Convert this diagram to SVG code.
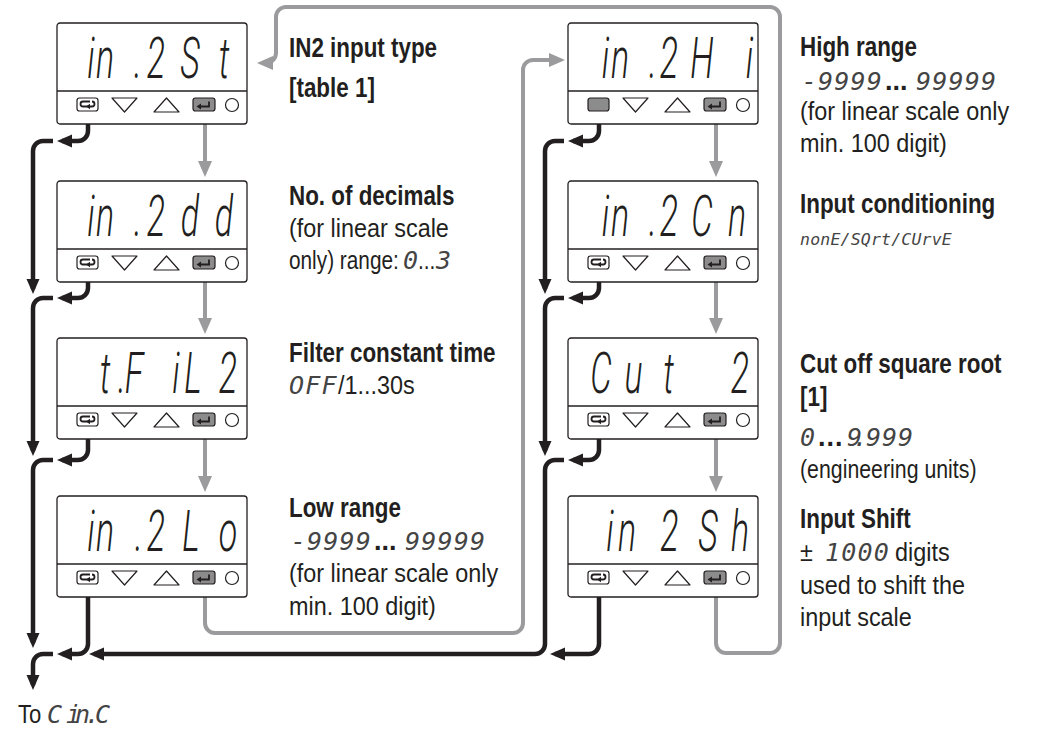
<svg xmlns="http://www.w3.org/2000/svg" xmlns:xlink="http://www.w3.org/1999/xlink" width="1040" height="729" viewBox="0 0 1040 729">
<style>
.box{fill:#fff;stroke:#231f20;stroke-width:1.3}
.ln{fill:none;stroke:#231f20;stroke-width:1.3}
.k{fill:#fff;stroke:#231f20;stroke-width:1.2;stroke-linejoin:round}
.kg{fill:#8c8c8c;stroke:#231f20;stroke-width:1.2}
.ic{fill:none;stroke:#231f20;stroke-width:1.8}
.icf{fill:#231f20}
.blk{fill:none;stroke:#231f20;stroke-width:4.5;marker-end:url(#ab)}
.gry{fill:none;stroke:#9b9b9d;stroke-width:4;marker-end:url(#ag)}
.disp{font-family:Roboto,"DejaVu Sans",sans-serif;font-weight:300;font-style:italic;font-size:34px;fill:#231f20;text-anchor:middle}
.b{font-family:"Liberation Sans",Arial,sans-serif;font-weight:bold;font-size:27px;fill:#231f20}
.r{font-family:"Liberation Sans",Arial,sans-serif;font-size:26px;fill:#231f20}
.s{font-family:"DejaVu Sans Mono",monospace;font-style:oblique;font-size:25px;fill:#444;letter-spacing:1.2px}
.ss{font-family:"DejaVu Sans Mono",monospace;font-style:oblique;font-size:16.5px;fill:#444;letter-spacing:0.2px}
</style>
<defs>
<marker id="ab" markerWidth="16" markerHeight="14" refX="10" refY="6.5" orient="auto" markerUnits="userSpaceOnUse"><path d="M0,0 L15,6.5 L0,13 Z" fill="#231f20"/></marker>
<marker id="ag" markerWidth="17" markerHeight="15" refX="11" refY="7" orient="auto" markerUnits="userSpaceOnUse"><path d="M0,0 L16,7 L0,14 Z" fill="#9b9b9d"/></marker>
<g id="frame"><rect x="0" y="0" width="190" height="101" rx="3" class="box"/><line x1="0" y1="68" x2="190" y2="68" class="ln"/></g>
<g id="keys">
<polygon points="55,75 80,75 67.5,89" class="k"/>
<polygon points="97,89 122,89 109.5,75" class="k"/>
<rect x="136" y="75" width="22" height="13" rx="2.5" class="kg"/>
<path d="M152,78.5 V83.5 H143" class="ic"/>
<polygon points="139.5,83.5 144,80.5 144,86.5" class="icf"/>
<circle cx="175" cy="82" r="6.5" class="k"/>
</g>
<g id="loopkey">
<rect x="20" y="75" width="21" height="13" rx="2.5" class="k"/>
<path d="M33,78.5 H26 A2.5,2.5 0 0 0 26,83.5 H35 A2.5,2.5 0 0 0 35,78.5" class="ic"/>
<polygon points="29,83.5 33,80.8 33,86.2" class="icf"/>
</g>
<g id="graykey"><rect x="20" y="75" width="21" height="13" rx="2.5" class="kg"/></g>
</defs>

<g id="connectors">
<path class="gry" d="M205,111 V172"/>
<path class="gry" d="M205,269 V329"/>
<path class="gry" d="M205,426 V487"/>
<path class="gry" d="M716,111 V172"/>
<path class="gry" d="M716,269 V329"/>
<path class="gry" d="M716,426 V487"/>
<path class="gry" d="M205,584 V623 A10,10 0 0 0 215,633 H513 A10,10 0 0 0 523,623 V70 A10,10 0 0 1 533,60 H560"/>
<path class="gry" d="M716,584 V643 A10,10 0 0 0 726,653 H770 A10,10 0 0 0 780,643 V17 A10,10 0 0 0 770,7 H286 A10,10 0 0 0 276,17 V53 A10,10 0 0 1 266,63 H262"/>
<path class="blk" d="M88,111 V131 A10,10 0 0 1 78,141 H62"/>
<path class="blk" d="M88,269 V288 A10,10 0 0 1 78,298 H62"/>
<path class="blk" d="M88,426 V450 A10,10 0 0 1 78,460 H62"/>
<path class="blk" d="M88,584 V644 A10,10 0 0 1 78,654 H62"/>
<path class="blk" d="M53,141 H43 A10,10 0 0 0 33,151 V289"/>
<path class="blk" d="M53,298 H43 A10,10 0 0 0 33,308 V451"/>
<path class="blk" d="M53,460 H43 A10,10 0 0 0 33,470 V643"/>
<path class="blk" d="M53,654 H43 A10,10 0 0 0 33,664 V685"/>
<path class="blk" d="M599,111 V131 A10,10 0 0 1 589,141 H573"/>
<path class="blk" d="M599,269 V288 A10,10 0 0 1 589,298 H573"/>
<path class="blk" d="M599,426 V450 A10,10 0 0 1 589,460 H573"/>
<path class="blk" d="M599,584 V644 A10,10 0 0 1 589,654 H555"/>
<path class="blk" d="M564,141 H555 A10,10 0 0 0 545,151 V289"/>
<path class="blk" d="M564,298 H555 A10,10 0 0 0 545,308 V451"/>
<path class="blk" d="M564,460 H555 A10,10 0 0 0 545,470 V644 A10,10 0 0 1 535,654 H94"/>
</g>

<g id="node-in2st">
<use xlink:href="#frame" x="57" y="23"/><use xlink:href="#keys" x="57" y="23"/><use xlink:href="#loopkey" x="57" y="23"/>
<g transform="translate(0,78) scale(1,1.7)"><text class="disp" x="91 105 138 156 190 224" y="0">in.2St</text></g>
<text class="b" transform="translate(289,57) scale(.83,1)">IN2 input type</text>
<text class="b" transform="translate(289,97) scale(.83,1)">[table 1]</text>
</g>

<g id="node-in2dd">
<use xlink:href="#frame" x="57" y="181"/><use xlink:href="#keys" x="57" y="181"/><use xlink:href="#loopkey" x="57" y="181"/>
<g transform="translate(0,236) scale(1,1.7)"><text class="disp" x="91 105 138 156 190 224" y="0">in.2dd</text></g>
<text class="b" transform="translate(289,205) scale(.83,1)">No. of decimals</text>
<text class="r" transform="translate(289,237) scale(.9,1)">(for linear scale</text>
<text class="r" transform="translate(289,269) scale(.8,1)">only) range:</text>
<text class="s" x="403" y="269">0</text>
<text class="r" transform="translate(418,269) scale(.8,1)">...</text>
<text class="s" x="436" y="269">3</text>
</g>

<g id="node-tfil2">
<use xlink:href="#frame" x="57" y="338"/><use xlink:href="#keys" x="57" y="338"/><use xlink:href="#loopkey" x="57" y="338"/>
<g transform="translate(0,393) scale(1,1.7)"><text class="disp" x="105 122 134 155 176 193 228" y="0">t.F iL2</text></g>
<text class="b" transform="translate(289,362) scale(.83,1)">Filter constant time</text>
<text class="s" x="289" y="394">OFF</text>
<text class="r" transform="translate(338,394) scale(.9,1)">/1...30s</text>
</g>

<g id="node-in2lo">
<use xlink:href="#frame" x="57" y="496"/><use xlink:href="#keys" x="57" y="496"/><use xlink:href="#loopkey" x="57" y="496"/>
<g transform="translate(0,551) scale(1,1.7)"><text class="disp" x="91 105 139 156 191 210 228" y="0">in.2L o</text></g>
<text class="b" transform="translate(289,517) scale(.83,1)">Low range</text>
<text class="s" x="290.7" y="550">-9999</text>
<text class="b" x="374" y="550">...</text>
<text class="s" x="405" y="550">99999</text>
<text class="r" transform="translate(289,582) scale(.9,1)">(for linear scale only</text>
<text class="r" transform="translate(289,615) scale(.9,1)">min. 100 digit)</text>
</g>

<g id="node-in2hi">
<use xlink:href="#frame" x="568" y="23"/><use xlink:href="#keys" x="568" y="23"/><use xlink:href="#graykey" x="568" y="23"/>
<g transform="translate(0,78) scale(1,1.7)"><text class="disp" x="605.5 620 653 669 702 725 749.5" y="0">in.2H i</text></g>
<text class="b" transform="translate(800,56) scale(.83,1)">High range</text>
<text class="s" x="801.7" y="90">-9999</text>
<text class="b" x="885" y="90">...</text>
<text class="s" x="916" y="90">99999</text>
<text class="r" transform="translate(800,120) scale(.9,1)">(for linear scale only</text>
<text class="r" transform="translate(800,152) scale(.9,1)">min. 100 digit)</text>
</g>

<g id="node-in2cn">
<use xlink:href="#frame" x="568" y="181"/><use xlink:href="#keys" x="568" y="181"/><use xlink:href="#loopkey" x="568" y="181"/>
<g transform="translate(0,236) scale(1,1.7)"><text class="disp" x="605.5 620 653 669 702 737" y="0">in.2Cn</text></g>
<text class="b" transform="translate(800,213) scale(.83,1)">Input conditioning</text>
<text class="ss" x="800" y="245">nonE/SQrt/CUrvE</text>
</g>

<g id="node-cut2">
<use xlink:href="#frame" x="568" y="338"/><use xlink:href="#keys" x="568" y="338"/><use xlink:href="#loopkey" x="568" y="338"/>
<g transform="translate(0,393) scale(1,1.7)"><text class="disp" x="601 633.5 668.5 704 740" y="0">Cut 2</text></g>
<text class="b" transform="translate(800,373) scale(.83,1)">Cut off square root</text>
<text class="b" transform="translate(800,406) scale(.83,1)">[1]</text>
<text class="s" x="800" y="446">0</text>
<text class="b" x="818" y="446" letter-spacing="1">...</text>
<text class="s" x="847 853 866 882 898" y="446">9.999</text>
<text class="r" transform="translate(800,478) scale(.82,1)">(engineering units)</text>
</g>

<g id="node-in2sh">
<use xlink:href="#frame" x="568" y="496"/><use xlink:href="#keys" x="568" y="496"/><use xlink:href="#loopkey" x="568" y="496"/>
<g transform="translate(0,551) scale(1,1.7)"><text class="disp" x="610 627 669.5 708 740" y="0">in2Sh</text></g>
<text class="b" transform="translate(800,528) scale(.83,1)">Input Shift</text>
<text class="r" transform="translate(800,561) scale(.9,1)">±</text>
<text class="s" x="825" y="561" letter-spacing="0">1000</text>
<text class="r" transform="translate(895,561) scale(.9,1)">digits</text>
<text class="r" transform="translate(800,594) scale(.9,1)">used to shift the</text>
<text class="r" transform="translate(800,626) scale(.9,1)">input scale</text>
</g>

<g id="label-next">
<text class="r" transform="translate(18,723) scale(.85,1)">To</text>
<text class="s" x="47 60 66 75 85 95" y="723" font-size="22" letter-spacing="0">C in.C</text>
</g>
</svg>
